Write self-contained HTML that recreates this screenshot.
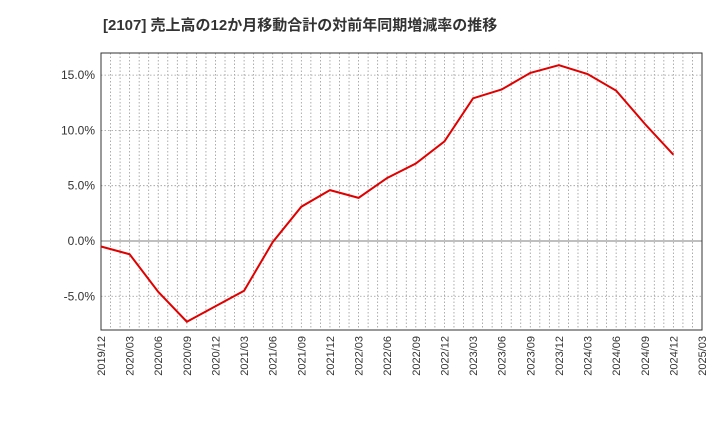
<!DOCTYPE html>
<html><head><meta charset="utf-8"><style>
body{margin:0;background:#fff;}
svg text{font-family:"Liberation Sans","Noto Sans CJK JP",sans-serif;}
</style></head><body>
<svg id="chart" width="720" height="440" viewBox="0 0 720 440" xmlns="http://www.w3.org/2000/svg">
<text x="103" y="30" font-size="15" font-weight="bold" fill="#333">[2107]  売上高の12か月移動合計の対前年同期増減率の推移</text>
<g id="grid"></g><g id="axes"></g><g id="series"></g>
</svg>
<script>
const categories=["2019/12","2020/03","2020/06","2020/09","2020/12","2021/03","2021/06","2021/09","2021/12","2022/03","2022/06","2022/09","2022/12","2023/03","2023/06","2023/09","2023/12","2024/03","2024/06","2024/09","2024/12","2025/03"];
const values=[-0.5,-1.2,-4.6,-7.3,-5.9,-4.5,-0.1,3.1,4.6,3.9,5.7,7.0,9.0,12.9,13.7,15.2,15.9,15.1,13.6,10.6,7.8];
const yTicks=[-5,0,5,10,15];
const L=101,R=702,T=53,B=330,yMin=-8.05,yMax=17.0;
const NS="http://www.w3.org/2000/svg";
const x=i=>L+(R-L)*i/(categories.length-1);
const y=v=>B-(v-yMin)/(yMax-yMin)*(B-T);
function mk(tag,attrs,parent){const e=document.createElementNS(NS,tag);for(const k in attrs)e.setAttribute(k,attrs[k]);document.getElementById(parent).appendChild(e);return e;}
const months=(categories.length-1)*3;
for(let m=1;m<months;m++){const xx=L+(R-L)*m/months;
 const g=mk('line',{x1:xx,x2:xx,y1:T,y2:B,stroke:'#999','stroke-width':0.8,'stroke-dasharray':'1.5,2'},'grid');
 
 }
yTicks.forEach(v=>{const yy=y(v);
 const g=mk('line',{x1:L,x2:R,y1:yy,y2:yy,stroke:v===0?'#555':'#999','stroke-width':0.8,'stroke-dasharray':v===0?'none':'1.5,2'},'grid');
 
 
 const t=mk('text',{x:L-6,y:yy+4,'text-anchor':'end','font-size':12,fill:'#333'},'axes');
 t.textContent=v.toFixed(1)+'%';
 
 });
const fr=mk('rect',{x:L,y:T,width:R-L,height:B-T,fill:'none',stroke:'#333','stroke-width':1},'axes');


categories.forEach((c,i)=>{const xx=x(i);
 const t=mk('text',{x:xx+4,y:B+6,'text-anchor':'end','font-size':11,fill:'#333',transform:`rotate(-90 ${xx+4} ${B+6})`},'axes');
 t.textContent=c;
 
 });
const p=mk('polyline',{points:values.map((v,i)=>x(i)+','+y(v)).join(' '),fill:'none',stroke:'#e00000','stroke-width':2},'series');


</script>
</body></html>
